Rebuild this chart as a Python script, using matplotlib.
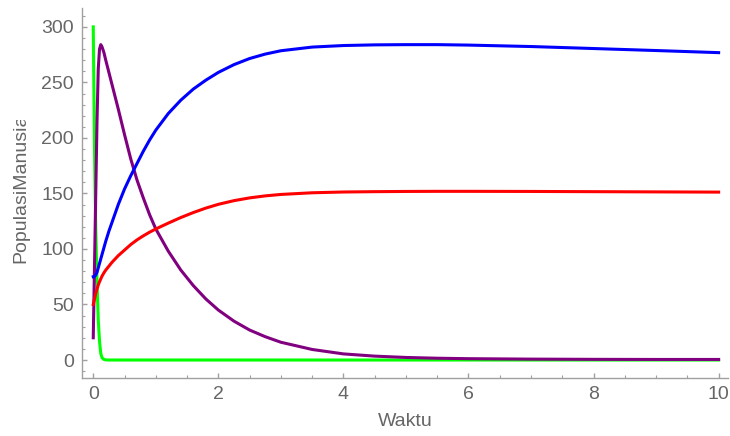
import numpy as np
import matplotlib
matplotlib.use("Agg")
from matplotlib import pyplot as plt
from matplotlib.ticker import MultipleLocator
from matplotlib.transforms import Bbox

# waktu (time) samples, dense near the start
waktu = [0, 0.02, 0.04, 0.06, 0.08, 0.1, 0.12, 0.14, 0.17, 0.2, 0.25, 0.3, 0.4, 0.5,
         0.6, 0.7, 0.8, 0.9, 1.0, 1.2, 1.4, 1.6, 1.8, 2.0, 2.25, 2.5, 2.75, 3.0,
         3.5, 4.0, 4.5, 5.0, 5.5, 6, 7, 8, 9, 10]

hijau = [300, 190, 118, 70, 36, 17, 6, 2, 0.5, 0.1, 0, 0, 0, 0,
         0, 0, 0, 0, 0, 0, 0, 0, 0, 0, 0, 0, 0, 0,
         0, 0, 0, 0, 0, 0, 0, 0, 0, 0]

ungu = [20, 85, 150, 215, 262, 280, 284, 282, 277, 270, 259, 248, 226, 203,
        181, 162, 146, 131, 118, 98, 81, 67, 55, 45, 35, 27, 21, 16,
        9.5, 5.5, 3.5, 2.3, 1.6, 1.2, 0.8, 0.6, 0.5, 0.5]

biru = [75, 75.3, 76.5, 79, 83, 87, 91, 95, 101, 107, 116, 124, 140, 154,
        166, 177, 188, 198, 207, 222, 234, 244, 252, 259, 266, 271.5, 275.5, 278.5,
        281.8, 283.2, 283.8, 284, 284, 283.6, 282.3, 280.5, 278.7, 276.8]

merah = [50, 55, 60, 64, 67.5, 70.5, 73, 75.5, 78.5, 81, 84.5, 88, 94, 99,
         104, 108.2, 111.8, 115.1, 118, 123.3, 128.3, 132.8, 136.8, 140.2, 143.5, 146, 147.8, 149.1,
         150.6, 151.3, 151.6, 151.8, 151.9, 151.9, 151.8, 151.6, 151.4, 151.2]

plt.rcParams['font.family'] = ['Liberation Sans', 'DejaVu Sans']

fig = plt.figure(figsize=(7.3, 4.36), dpi=100)
ax = fig.add_axes([82/730, 1 - 378/436, (728 - 82)/730, (378 - 8)/436])

lw = 2.2
ax.plot(waktu, hijau, color='#00ff00', lw=lw)
ax.plot(waktu, ungu, color='#800080', lw=lw)
ax.plot(waktu, biru, color='#0000ff', lw=lw)
ax.plot(waktu, merah, color='#ff0000', lw=lw)

ax.set_xlim(-0.18, 10.15)
ax.set_ylim(-16.2, 317)

for s in ['top', 'right']:
    ax.spines[s].set_visible(False)
for s in ['left', 'bottom']:
    ax.spines[s].set_color('#a0a0a0')
    ax.spines[s].set_linewidth(1.0)

ax.xaxis.set_major_locator(MultipleLocator(2))
ax.xaxis.set_minor_locator(MultipleLocator(0.5))
ax.yaxis.set_major_locator(MultipleLocator(50))
ax.yaxis.set_minor_locator(MultipleLocator(10))
ax.tick_params(which='both', direction='in', color='#a0a0a0', labelcolor='#666666',
               labelsize=14)
ax.tick_params(which='major', length=3.5, width=1.0)
ax.tick_params(which='minor', length=2, width=0.8)
ax.tick_params(axis='y', pad=6)
ax.tick_params(axis='x', pad=6)

ax.set_xlabel('Waktu', color='#666666', fontsize=14, labelpad=7)

# y label is cut off at the top in the original
ylab = fig.text(21/730, 1 - 263/436, 'PopulasiManusia', rotation=90, color='#666666',
                fontsize=14, ha='center', va='bottom')
ylab.set_clip_box(Bbox.from_extents(0, 0, 730, 436 - 120))
ylab.set_clip_on(True)

fig.savefig('out.png', dpi=100)
